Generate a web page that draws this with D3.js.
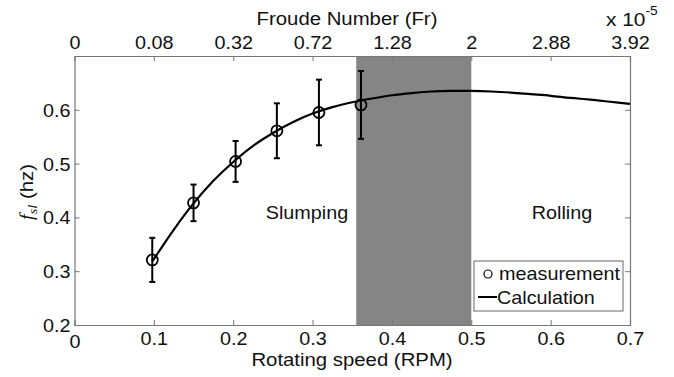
<!DOCTYPE html>
<html><head><meta charset="utf-8">
<script src="https://cdn.jsdelivr.net/npm/d3@7"></script>
<style>body{margin:0;background:#fff}svg{display:block}text{font-family:"Liberation Sans",Arial,sans-serif;fill:#111}</style>
</head><body><svg id="c" width="674" height="377"></svg>
<script>
const rpmTicks = [0, 0.1, 0.2, 0.3, 0.4, 0.5, 0.6, 0.7];
const froudeLabels = ["0", "0.08", "0.32", "0.72", "1.28", "2", "2.88", "3.92"];
const yTicks = [0.2, 0.3, 0.4, 0.5, 0.6];
const measRpm = [0.098, 0.15, 0.203, 0.255, 0.308, 0.361];
const measF   = [0.321, 0.427, 0.504, 0.561, 0.595, 0.609];
const measErr = [0.041, 0.034, 0.038, 0.051, 0.061, 0.063];
const calcRpm = [0.098, 0.125, 0.15, 0.175, 0.2, 0.225, 0.25, 0.275, 0.3, 0.325, 0.35, 0.375, 0.4, 0.425, 0.45, 0.475, 0.5, 0.525, 0.55, 0.575, 0.6, 0.625, 0.65, 0.675, 0.7];
const calcF   = [0.318, 0.377, 0.426, 0.468, 0.503, 0.533, 0.557, 0.577, 0.593, 0.605, 0.614, 0.621, 0.627, 0.631, 0.634, 0.635, 0.635, 0.634, 0.632, 0.629, 0.626, 0.622, 0.619, 0.615, 0.611];
const bandRange = [0.355, 0.5];

const svg = d3.select("#c");
const L = 74.5, R = 630, T = 56, B = 325;
const x = d3.scaleLinear().domain([0, 0.7]).range([L, R]);
const y = d3.scaleLinear().domain([0.2, 0.7]).range([B, T]);
const axisCol = "#777";
const SX = 1.1, FS = 18;

// horizontally stretched text (reference glyphs are wide)
function stretch(sel) {
  sel.each(function () {
    const t = d3.select(this);
    const x0 = +t.attr("x") || 0;
    t.attr("x", x0 / SX).attr("transform", `scale(${SX},1)`);
  });
}
function label(px, py, txt, anchor, size) {
  return svg.append("text").attr("transform", `translate(${px},${py}) scale(${SX},1)`)
    .attr("text-anchor", anchor).attr("font-size", size || FS).text(txt);
}

// band
svg.append("rect").attr("x", x(bandRange[0])).attr("y", T)
  .attr("width", x(bandRange[1]) - x(bandRange[0])).attr("height", B - T)
  .attr("fill", "#858585");

// axes
const gB = svg.append("g").attr("transform", `translate(0,${B})`)
  .call(d3.axisBottom(x).tickValues(rpmTicks).tickSize(-5).tickPadding(7).tickFormat(d => d3.format("")(d)));
const gT = svg.append("g").attr("transform", `translate(0,${T})`)
  .call(d3.axisTop(x).tickValues(rpmTicks).tickSize(-5).tickPadding(7).tickFormat((d, i) => froudeLabels[i]));
const gL = svg.append("g").attr("transform", `translate(${L},0)`)
  .call(d3.axisLeft(y).tickValues(yTicks).tickSize(-5).tickPadding(4).tickFormat(d3.format(".1f")));
const gR = svg.append("g").attr("transform", `translate(${R},0)`)
  .call(d3.axisRight(y).tickValues(yTicks).tickSize(-5).tickFormat(""));
[gB, gT, gL, gR].forEach(g => {
  g.select(".domain").attr("stroke", axisCol).attr("stroke-width", 1.2);
  g.selectAll(".tick line").attr("stroke", axisCol);
  g.selectAll("text").attr("font-size", FS).attr("fill", "#111")
    .style("font-family", '"Liberation Sans",Arial,sans-serif');
});
gB.selectAll(".tick").filter(d => d === 0).select("line").remove();
gT.selectAll(".tick").filter(d => d === 0 || d === 0.7).select("line").remove();
gL.selectAll(".tick").filter(d => d === 0.2).select("line").remove();
gL.selectAll(".tick text").attr("dy", "0.36em");
gB.selectAll(".tick").filter(d => d === 0).select("text").attr("dy", "0.9em");
[gB, gT, gL].forEach(g => stretch(g.selectAll(".tick text")));

// curve
svg.append("path").datum(calcRpm.map((r, i) => [r, calcF[i]]))
  .attr("d", d3.line().x(d => x(d[0])).y(d => y(d[1])).curve(d3.curveCatmullRom))
  .attr("fill", "none").attr("stroke", "#000").attr("stroke-width", 2.2);

// error bars
const eb = svg.append("g").attr("stroke", "#000").attr("stroke-width", 2);
measRpm.forEach((r, i) => {
  const cx = x(r), y1 = y(measF[i] + measErr[i]), y2 = y(measF[i] - measErr[i]);
  eb.append("line").attr("x1", cx).attr("x2", cx).attr("y1", y1).attr("y2", y2);
  eb.append("line").attr("x1", cx - 3).attr("x2", cx + 3).attr("y1", y1).attr("y2", y1);
  eb.append("line").attr("x1", cx - 3).attr("x2", cx + 3).attr("y1", y2).attr("y2", y2);
});
svg.append("g").selectAll("circle").data(measRpm).join("circle")
  .attr("cx", d => x(d)).attr("cy", (d, i) => y(measF[i])).attr("r", 5.5)
  .attr("fill", "none").attr("stroke", "#000").attr("stroke-width", 1.8);

// region labels
label(307, 219, "Slumping", "middle");
label(562, 219, "Rolling", "middle");

// axis titles
label(352, 365.5, "Rotating speed (RPM)", "middle", 18.5);
label(347, 25, "Froude Number (Fr)", "middle", 18.5);
const ex = svg.append("text").attr("transform", `translate(606,26) scale(${SX},1)`).attr("font-size", 19);
ex.append("tspan").text("x 10");
ex.append("tspan").attr("dy", -11).attr("font-size", 12.5).text("-5");

const yl = svg.append("text").attr("transform", `translate(33,192) rotate(-90) scale(${SX},1)`).attr("text-anchor", "middle").attr("font-size", 18.5);
yl.append("tspan").style("font-family", '"Liberation Serif","Times New Roman",serif').attr("font-style", "italic").text("f");
yl.append("tspan").style("font-family", '"Liberation Serif","Times New Roman",serif').attr("font-style", "italic").attr("font-size", 13).attr("dy", 4).text("sl");
yl.append("tspan").attr("dy", -4).text(" (hz)");

// legend
const lg = svg.append("g");
lg.append("rect").attr("x", 474).attr("y", 261).attr("width", 149).attr("height", 50)
  .attr("fill", "#fff").attr("stroke", "#666").attr("stroke-width", 1);
lg.append("circle").attr("cx", 488).attr("cy", 274).attr("r", 4).attr("fill", "none").attr("stroke", "#000").attr("stroke-width", 1.2);
label(499, 280, "measurement", "start");
lg.append("line").attr("x1", 478).attr("x2", 497).attr("y1", 297).attr("y2", 297).attr("stroke", "#000").attr("stroke-width", 2);
label(497, 304, "Calculation", "start");
</script></body></html>
